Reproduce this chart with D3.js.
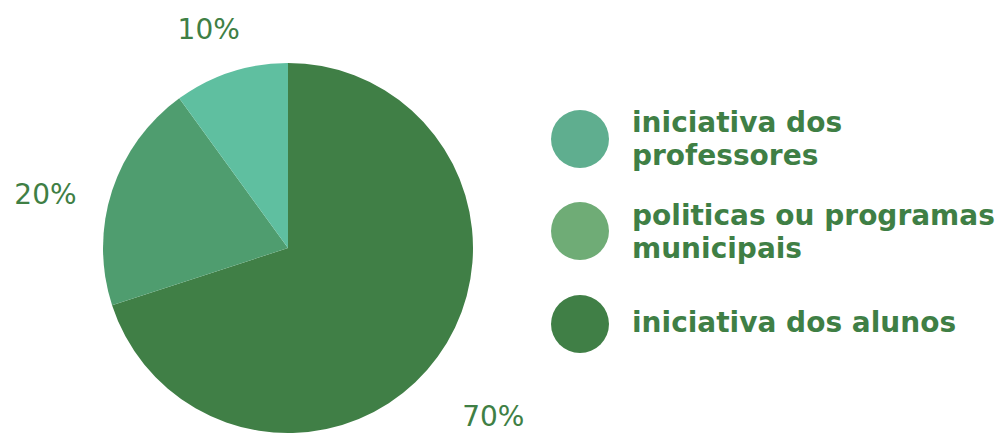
<!DOCTYPE html>
<html><head><meta charset="utf-8">
<script src="https://cdn.jsdelivr.net/npm/d3@7"></script>
<style>body{margin:0;background:#fff}svg{display:block}</style>
</head><body>
<svg id="c" width="1004" height="434"></svg>
<script>
const categories = ["iniciativa dos alunos", "politicas ou programas municipais", "iniciativa dos professores"];
const values = [70, 20, 10];
const valueLabels = ["70%", "20%", "10%"];
const sliceColors = ["#407f46", "#4f9d6f", "#5fbfa0"];
const legendOrder = ["iniciativa dos professores", "politicas ou programas municipais", "iniciativa dos alunos"];
const legendLines = [["iniciativa dos", "professores"], ["politicas ou programas", "municipais"], ["iniciativa dos alunos"]];
const legendColors = ["#5fae8f", "#6fac76", "#407f46"];

const svg = d3.select("#c");
const cx = 288, cy = 248, r = 185;
const pie = d3.pie().sort(null).value(d => d)(values);
const arc = d3.arc().innerRadius(0).outerRadius(r);
const g = svg.append("g").attr("transform", `translate(${cx},${cy})`);
g.selectAll("path").data(pie).join("path").attr("d", arc).attr("fill", (d, i) => sliceColors[i]);

// value labels (placed outside along slice mid-angle, with small nudges)
const labelArc = d3.arc().innerRadius(r + 49).outerRadius(r + 49);
const nudges = [[16, 29], [-20, 17], [-7, 3]];
g.selectAll("text.v").data(pie).join("text").attr("class", "v")
  .attr("x", (d, i) => labelArc.centroid(d)[0] + nudges[i][0])
  .attr("y", (d, i) => labelArc.centroid(d)[1] + nudges[i][1] + 11)
  .attr("text-anchor", "middle")
  .attr("font-family", "DejaVu Sans, sans-serif").attr("font-size", 28)
  .attr("fill", "#3f7f45").text((d, i) => valueLabels[i]);

// legend
const circleY = d3.scaleOrdinal().domain(legendOrder).range([139, 231, 324]);
const textY = d3.scaleOrdinal().domain(legendOrder).range([132, 225, 332]);
const lg = svg.append("g");
legendOrder.forEach((name, i) => {
  lg.append("circle").attr("cx", 580).attr("cy", circleY(name)).attr("r", 29).attr("fill", legendColors[i]);
  legendLines[i].forEach((ln, j) => {
    lg.append("text").attr("x", 632).attr("y", textY(name) + j * 33)
      .attr("font-family", "DejaVu Sans, sans-serif").attr("font-weight", 700)
      .attr("font-size", 28).attr("fill", "#3f7f45").text(ln);
  });
});
</script>
</body></html>
